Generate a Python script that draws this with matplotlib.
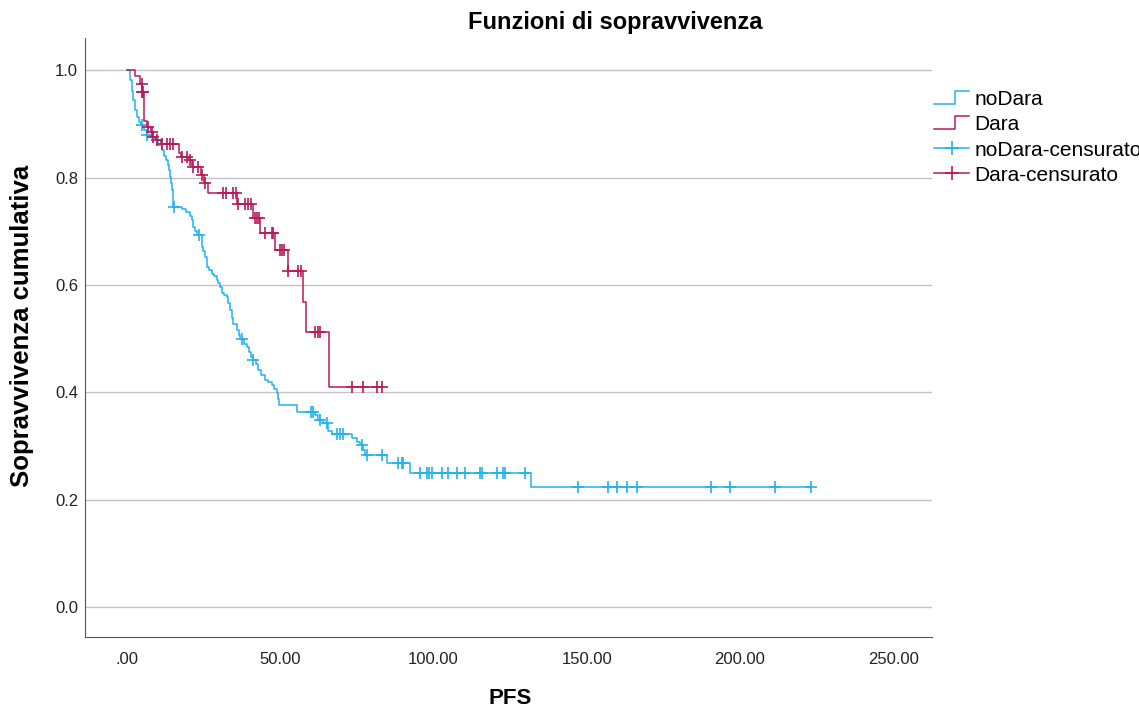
import numpy as np
import matplotlib
matplotlib.use('Agg')
import matplotlib.pyplot as plt
from matplotlib.lines import Line2D
from matplotlib.legend_handler import HandlerBase

plt.rcParams['font.family'] = ['Liberation Sans', 'DejaVu Sans']

# Kaplan-Meier curves: (time of step, survival after step)
nodara_t = [0, 1.0, 1.6, 2.1, 2.6, 3.2, 3.9, 4.5, 5.5, 6.4, 7.5, 9.1, 10.1, 11.3, 12.1,
            12.7, 13.5, 13.7, 14.0, 14.4, 14.6, 14.9, 15.1, 17.9, 19.3, 20.6, 21.1, 21.6,
            22.2, 22.8, 24.4, 24.8, 25.5, 26.0, 26.8, 27.6, 28.4, 29.3, 29.7, 30.4, 30.9,
            31.7, 32.5, 33.1, 33.6, 34.2, 34.6, 35.8, 36.4, 36.9, 38.2, 39.1, 39.8, 40.5,
            41.0, 42.1, 42.9, 43.7, 45.0, 46.0, 47.2, 48.0, 48.9, 49.3, 49.7, 55.4, 61.4,
            62.4, 64.1, 65.7, 66.8, 73.3, 75.0, 76.0, 77.1, 77.7, 84.8, 92.4, 131.8]
nodara_s = [1.0, 0.981, 0.962, 0.944, 0.926, 0.913, 0.903, 0.898, 0.888, 0.879, 0.875, 0.870,
            0.860, 0.851, 0.840, 0.832, 0.823, 0.814, 0.801, 0.790, 0.777, 0.764, 0.745,
            0.742, 0.736, 0.728, 0.721, 0.708, 0.700, 0.693, 0.671, 0.663, 0.652, 0.634,
            0.628, 0.621, 0.616, 0.609, 0.603, 0.596, 0.584, 0.581, 0.578, 0.566, 0.553,
            0.538, 0.527, 0.516, 0.507, 0.499, 0.490, 0.485, 0.475, 0.466, 0.460, 0.453,
            0.441, 0.432, 0.423, 0.419, 0.413, 0.406, 0.398, 0.387, 0.376, 0.363, 0.358,
            0.349, 0.342, 0.327, 0.322, 0.314, 0.308, 0.302, 0.292, 0.283, 0.268, 0.249,
            0.223]
nodara_end = 223.3
nodara_cens = [4.8, 6.6, 15.4, 23.6, 37.4, 41.2, 60.1, 60.8, 63.0, 65.2, 68.4, 69.5, 70.6,
               76.6, 78.2, 83.1, 88.5, 89.6, 90.2, 95.6, 97.8, 98.7, 99.4, 102.7, 104.9,
               107.6, 110.3, 115.2, 115.8, 120.7, 122.8, 123.4, 129.9, 147.1, 156.9, 159.8,
               163.3, 166.3, 190.5, 196.8, 211.6, 223.3]

dara_t = [0, 2.6, 4.2, 5.0, 5.4, 6.5, 8.0, 8.5, 9.5, 11.0, 17.0, 17.6, 20.2, 21.2, 24.0,
          25.2, 26.4, 35.9, 41.2, 43.4, 48.3, 52.4, 57.3, 58.4, 66.0]
dara_s = [1.0, 0.99, 0.975, 0.96, 0.905, 0.895, 0.885, 0.875, 0.87, 0.862, 0.845, 0.838,
          0.832, 0.82, 0.805, 0.79, 0.772, 0.75, 0.724, 0.697, 0.665, 0.626, 0.569, 0.513,
          0.41]
dara_end = 83.1
dara_cens = [4.8, 5.0, 5.2, 6.9, 8.1, 8.6, 9.8, 11.3, 13.0, 14.0, 15.1, 17.9, 19.5, 20.6,
             21.5, 23.2, 24.4, 25.5, 31.2, 32.3, 34.5, 35.6, 36.2, 38.5, 39.5, 40.4, 41.8,
             42.3, 43.1, 45.0, 47.2, 47.7, 49.9, 50.5, 51.2, 52.6, 55.8, 56.7, 61.4, 62.4,
             63.0, 73.3, 76.9, 81.5, 83.1]

xticks = [0, 50, 100, 150, 200, 250]
xticklabels = ['.00', '50.00', '100.00', '150.00', '200.00', '250.00']
yticks = [0.0, 0.2, 0.4, 0.6, 0.8, 1.0]

blue = '#22b2ee'
red = '#b81a5c'


def level_at(t, s, ct):
    idx = np.searchsorted(t, ct, side='right') - 1
    return np.asarray(s)[idx]


class StepHandler(HandlerBase):
    def create_artists(self, legend, orig_handle, xdescent, ydescent, width, height,
                       fontsize, trans):
        xs = np.array([0, 0.6, 0.6, 1.0]) * width - xdescent
        ys = np.array([0.1, 0.1, 0.95, 0.95]) * height - ydescent
        ln = Line2D(xs, ys, color=orig_handle.get_color(), lw=orig_handle.get_linewidth())
        ln.set_transform(trans)
        return [ln]


fig = plt.figure(figsize=(11.39, 7.09), dpi=100)
ax = fig.add_axes([85 / 1139, 1 - 637 / 709, 847 / 1139, 599 / 709])

for t, s, end, cens, c in [(nodara_t, nodara_s, nodara_end, nodara_cens, blue),
                           (dara_t, dara_s, dara_end, dara_cens, red)]:
    ax.step(list(t) + [end], list(s) + [s[-1]], where='post', color=c, lw=1.1)
    ax.plot(cens, level_at(t, s, cens), '+', color=c, ms=8, mew=1.2, ls='none')

ax.set_xlim(-13.7, 262.7)
ax.set_ylim(-0.056, 1.06)
ax.set_xticks(xticks)
ax.set_xticklabels(xticklabels)
ax.set_yticks(yticks)
ax.set_yticklabels(['%.1f' % v for v in yticks])
ax.tick_params(length=0, labelsize=12, colors='#222222')
ax.tick_params(axis='x', pad=11)
ax.tick_params(axis='y', pad=5)
ax.grid(axis='y', color='#c2c2c2', lw=1)
ax.set_axisbelow(True)
for sp in ['top', 'right']:
    ax.spines[sp].set_visible(False)
for sp in ['left', 'bottom']:
    ax.spines[sp].set_color('#555555')

ax.set_ylabel('Sopravvivenza cumulativa', fontsize=18.5, fontweight='bold')
ax.yaxis.set_label_coords((22 - 85) / 847, (637 - 326) / 599)
ax.yaxis.label.set_va('center')
ax.set_xlabel('PFS', fontsize=16, fontweight='bold')
ax.xaxis.set_label_coords((510 - 85) / 847, (637 - 698) / 599)
ax.xaxis.label.set_va('center')

fig.text(615 / 1139, 1 - 22 / 709, 'Funzioni di sopravvivenza', ha='center', va='center',
         fontsize=17, fontweight='bold')

h1 = Line2D([], [], color=blue, lw=1.1)
h2 = Line2D([], [], color=red, lw=1.1)
h3 = Line2D([], [], color=blue, lw=1.1, marker='+', ms=10, mew=1.2)
h4 = Line2D([], [], color=red, lw=1.1, marker='+', ms=10, mew=1.2)
fig.legend([h1, h2, h3, h4], ['noDara', 'Dara', 'noDara-censurato', 'Dara-censurato'],
           loc='upper left', bbox_to_anchor=(934 / 1139, 1 - 90 / 709), frameon=False,
           fontsize=15, handlelength=1.7, handletextpad=0.25, labelspacing=0.3,
           borderpad=0, borderaxespad=0,
           handler_map={h1: StepHandler(), h2: StepHandler()})

fig.savefig('out.png', dpi=100)
